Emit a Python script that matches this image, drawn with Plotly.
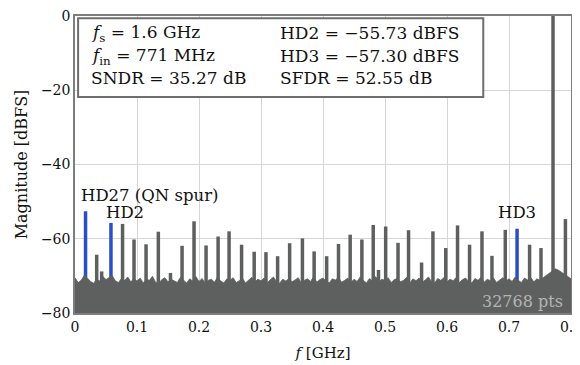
import plotly.graph_objects as go

# ---------------- data ----------------
floor_step = 0.005
floor_db = [
    -70.5, -71.8, -71.2, -69.8, -70.6, -71.5, -72.0, -70.9, -71.4, -70.2, -71.0, -70.4, -69.9, -71.3, -71.8, -70.7, -71.2, -70.3, -71.6, -70.8,
    -71.4, -70.6, -71.9, -70.9, -71.2, -70.1, -71.7, -72.1, -71.0, -70.5, -71.6, -70.9, -71.3, -71.8, -70.4, -71.1, -71.9, -70.8, -71.4, -70.2,
    -71.5, -70.7, -72.0, -71.2, -70.9, -71.7, -70.3, -71.4, -71.9, -70.8, -71.2, -70.5, -71.8, -71.3, -70.6, -71.9, -71.1, -70.4, -71.6, -70.9,
    -71.3, -70.6, -71.8, -71.0, -70.3, -71.5, -72.0, -70.9, -71.4, -70.7, -71.6, -71.1, -70.5, -71.9, -71.2, -70.8, -71.5, -70.2, -71.7, -71.0,
    -70.6, -71.4, -71.9, -70.8, -71.1, -70.4, -71.7, -71.2, -70.6, -71.8, -70.9, -71.5, -70.3, -71.2, -71.9, -70.7, -71.4, -70.2, -71.6, -70.9,
    -71.2, -70.5, -71.8, -71.0, -70.7, -71.6, -71.2, -70.4, -71.9, -70.8, -71.3, -70.6, -71.7, -71.1, -70.3, -71.5, -71.9, -70.7, -71.2, -70.5,
    -71.6, -70.9, -71.3, -70.4, -71.8, -71.0, -70.6, -71.5, -71.9, -70.7, -71.2, -70.4, -71.7, -70.9, -71.3, -70.6, -71.8, -71.1, -70.5, -71.4,
    -70.8, -71.5, -70.3, -71.2, -71.8, -70.6, -71.1, -70.4, -71.6, -70.8, -71.2, -70.5, -69.9, -69.2, -68.6, -68.1, -68.5, -69.0, -69.6, -70.2,
    -70.8,
]
floor_f = [i * floor_step for i in range(len(floor_db))]

spur_f = [0.035, 0.043, 0.0767, 0.0952, 0.1146, 0.1344, 0.154, 0.1727, 0.192, 0.2114,
          0.2308, 0.2485, 0.2687, 0.289, 0.308, 0.3268, 0.3462, 0.3668, 0.3857, 0.4059,
          0.425, 0.4438, 0.4627, 0.481, 0.4895, 0.5011, 0.521, 0.538, 0.559, 0.5773,
          0.598, 0.617, 0.6364, 0.6564, 0.6725, 0.694, 0.7332, 0.7516, 0.771, 0.791]
spur_db = [-64.3, -68.8, -56.0, -60.2, -61.5, -58.1, -69.2, -61.9, -55.3, -61.8,
           -59.4, -58.0, -61.6, -63.5, -63.6, -64.7, -61.2, -59.9, -63.4, -64.7,
           -61.4, -58.9, -60.2, -56.3, -68.4, -56.7, -61.1, -57.7, -66.4, -58.0,
           -62.5, -56.4, -61.6, -58.0, -64.6, -57.6, -61.6, -62.5, 0.0, -54.7]

hd_names = ["HD27", "HD2", "HD3"]
hd_f = [0.017, 0.058, 0.713]
hd_db = [-52.6, -55.73, -57.30]

x_ticks = [0, 0.1, 0.2, 0.3, 0.4, 0.5, 0.6, 0.7, 0.8]
x_tick_text = ["0", "0.1", "0.2", "0.3", "0.4", "0.5", "0.6", "0.7", "0.8"]
y_ticks = [0, -20, -40, -60, -80]
y_tick_text = ["0", "−20", "−40", "−60", "−80"]

FLOOR = -80
GRAY = "#5e6060"
BLUE = "#2a4fc4"
FONT = "DejaVu Serif"
TXT = "#111111"

def stems(fs, vs):
    xs, ys = [], []
    for f, v in zip(fs, vs):
        xs += [f, f, None]
        ys += [FLOOR, v, None]
    return xs, ys

fig = go.Figure()
sx, sy = stems(spur_f, spur_db)
fig.add_trace(go.Scatter(x=sx, y=sy, mode="lines", line=dict(width=3.5, color=GRAY), showlegend=False))
hx, hy = stems(hd_f, hd_db)
fig.add_trace(go.Scatter(x=hx, y=hy, mode="lines", line=dict(width=3.5, color=BLUE), showlegend=False))
fig.add_trace(go.Scatter(x=[floor_f[0], floor_f[-1]], y=[FLOOR, FLOOR], mode="lines",
                         line=dict(width=0, color=GRAY), hoverinfo="skip", showlegend=False))
fig.add_trace(go.Scatter(x=floor_f, y=floor_db, mode="lines", fill="tonexty",
                         fillcolor=GRAY, line=dict(width=0.8, color=GRAY), showlegend=False))

axis_common = dict(showgrid=True, gridcolor="#d6d6d6", gridwidth=1, zeroline=False,
                   showline=True, linecolor="#7d7d7d", linewidth=1.5, mirror=True,
                   ticks="", automargin=False, ticklabeloverflow="allow",
                   tickfont=dict(family=FONT, size=14, color=TXT))
fig.update_xaxes(range=[0, 0.8], tickvals=x_ticks, ticktext=x_tick_text,
                 title=dict(text="<i>f</i> [GHz]", font=dict(family=FONT, size=15, color=TXT), standoff=14),
                 **axis_common)
fig.update_yaxes(range=[-80, 0], tickvals=y_ticks, ticktext=y_tick_text,
                 title=dict(text="Magnitude [dBFS]", font=dict(family=FONT, size=16, color=TXT), standoff=9),
                 **axis_common)

# info box
fig.add_shape(type="rect", xref="x", yref="y", x0=0.005, x1=0.6585, y0=-0.6, y1=-21.8,
              line=dict(color="#6e6e6e", width=2), fillcolor="white", layer="above")
left_lines = ["<i>f</i><sub>s</sub> = 1.6 GHz", "<i>f</i><sub>in</sub> = 771 MHz", "SNDR = 35.27 dB"]
right_lines = ["HD2 = −55.73 dBFS", "HD3 = −57.30 dBFS", "SFDR = 52.55 dB"]
line_y = [-4.6, -10.8, -16.7]
for t, y in zip(left_lines, line_y):
    fig.add_annotation(x=0.022, y=y, text=t, showarrow=False, xanchor="left", yanchor="middle",
                       font=dict(family=FONT, size=17, color=TXT))
for t, y in zip(right_lines, line_y):
    fig.add_annotation(x=0.3276, y=y, text=t, showarrow=False, xanchor="left", yanchor="middle",
                       font=dict(family=FONT, size=17, color=TXT))

fig.add_annotation(x=0.006, y=-48.4, text="HD27 (QN spur)", showarrow=False, xanchor="left",
                   yanchor="middle", font=dict(family=FONT, size=16.5, color=TXT))
fig.add_annotation(x=0.08, y=-52.9, text="HD2", showarrow=False, xanchor="center",
                   yanchor="middle", font=dict(family=FONT, size=16.5, color=TXT))
fig.add_annotation(x=0.713, y=-52.8, text="HD3", showarrow=False, xanchor="center",
                   yanchor="middle", font=dict(family=FONT, size=16.5, color=TXT))
fig.add_annotation(x=0.791, y=-77, text="32768 pts", showarrow=False, xanchor="right",
                   yanchor="middle", font=dict(family=FONT, size=16, color="#b4b4b4"))

# page adds an 8 px body margin, so the figure is 8 px smaller and margins shifted
fig.update_layout(width=572, height=357, margin=dict(l=67, r=9, t=8, b=52),
                  plot_bgcolor="white", paper_bgcolor="white", showlegend=False)
fig.write_html("out.html")
